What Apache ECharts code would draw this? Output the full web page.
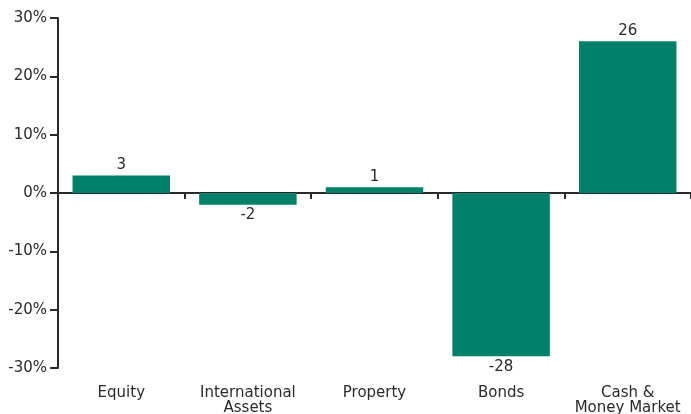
<!DOCTYPE html>
<html>
<head>
<meta charset="utf-8">
<script src="https://cdn.jsdelivr.net/npm/echarts@6/dist/echarts.min.js"></script>
<style>
  html, body { margin: 0; padding: 0; background: #fff; }
  #chart { width: 691px; height: 414px; }
</style>
</head>
<body>
<div id="chart"></div>
<script>
var categories = ["Equity", "International\nAssets", "Property", "Bonds", "Cash &\nMoney Market"];
var values = [3, -2, 1, -28, 26];
var yTicks = { min: -30, max: 30, step: 10 };

var green = "#00806a";
var ink = "#2a2a2a";

var chart = echarts.init(document.getElementById("chart"));

// labels go above positive bars, below negative ones
var barData = values.map(function (v) {
  return {
    value: v,
    label: { position: v < 0 ? "bottom" : "top" }
  };
});

chart.setOption({
  animation: false,
  textStyle: { fontFamily: "DejaVu Sans" },
  grid: { left: 58, right: 0, top: 18, bottom: 46, outerBoundsMode: "none" },
  xAxis: [
    {
      // the zero line with the separating ticks
      type: "category",
      data: categories,
      axisLine: { onZero: true, lineStyle: { color: ink, width: 2 } },
      axisTick: { show: true, length: 6, lineStyle: { color: ink, width: 2 } },
      axisLabel: { show: false }
    },
    {
      // category names along the bottom
      type: "category",
      data: categories,
      position: "bottom",
      axisLine: { show: false, onZero: false },
      axisTick: { show: false },
      axisLabel: { color: ink, fontSize: 15, margin: 18, lineHeight: 15, interval: 0 }
    }
  ],
  yAxis: {
    type: "value",
    min: yTicks.min,
    max: yTicks.max,
    interval: yTicks.step,
    axisLine: { show: true, lineStyle: { color: ink, width: 2 } },
    axisTick: { show: true, length: 8, lineStyle: { color: ink, width: 2 } },
    splitLine: { show: false },
    axisLabel: { color: ink, fontSize: 15, margin: 11, formatter: "{value}%" }
  },
  series: [
    {
      type: "bar",
      data: barData,
      barWidth: "77%",
      itemStyle: { color: green },
      label: { show: true, color: ink, fontSize: 15, distance: 3 }
    }
  ]
});
</script>
</body>
</html>
